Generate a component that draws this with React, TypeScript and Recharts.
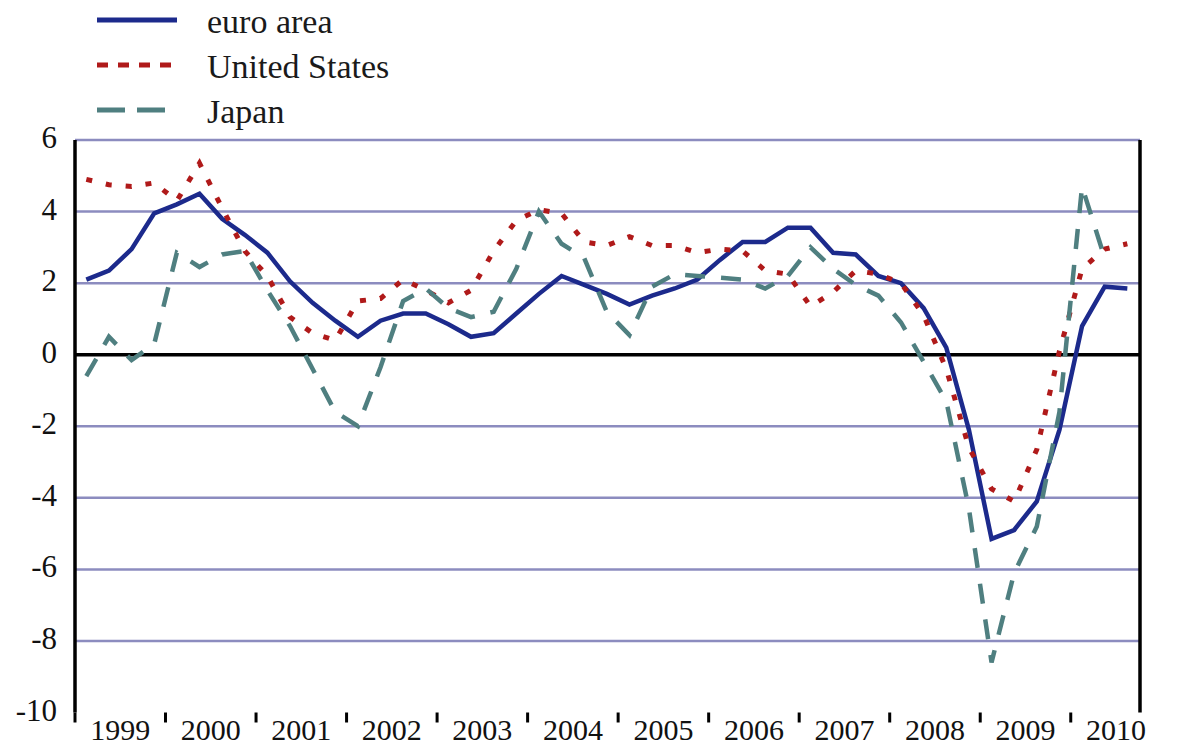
import React from 'react';
import { LineChart, Line, XAxis, YAxis, CartesianGrid } from 'recharts';

// ---- data (quarterly, y-o-y % change), 1999Q1 .. 2010Q3 ----
const years = ['1999', '2000', '2001', '2002', '2003', '2004', '2005', '2006', '2007', '2008', '2009', '2010'];
const quarterNames = ['Q1', 'Q2', 'Q3', 'Q4'];

const euroArea = [
  2.1, 2.35, 2.95, 3.95, 4.2, 4.5, 3.8, 3.35, 2.85, 2.05, 1.45, 0.95,
  0.5, 0.95, 1.15, 1.15, 0.85, 0.5, 0.6, 1.15, 1.7, 2.2, 1.95, 1.7,
  1.4, 1.65, 1.85, 2.1, 2.65, 3.15, 3.15, 3.55, 3.55, 2.85, 2.8, 2.2,
  2.0, 1.3, 0.2, -2.1, -5.15, -4.9, -4.1, -2.1, 0.8, 1.9, 1.85,
];
const unitedStates = [
  4.9, 4.75, 4.7, 4.8, 4.3, 5.35, 4.1, 2.9, 2.2, 1.05, 0.6, 0.4,
  1.5, 1.57, 2.1, 1.8, 1.45, 1.8, 2.9, 3.75, 4.05, 3.95, 3.15, 3.05,
  3.3, 3.05, 3.05, 2.85, 2.95, 2.9, 2.35, 2.25, 1.35, 1.75, 2.35, 2.25,
  2.0, 1.1, -0.4, -2.6, -3.75, -4.1, -2.65, 0.1, 2.4, 2.95, 3.1,
];
const japan: (number | null)[] = [
  -0.6, 0.5, -0.15, 0.3, 2.85, 2.45, 2.8, 2.9, 1.8, 0.8, -0.4, -1.6,
  -2.0, -0.35, 1.5, 1.85, 1.3, 1.05, 1.2, 2.4, 4.0, 3.1, 2.7, 1.2,
  0.55, 1.9, 2.25, 2.2, 2.15, 2.1, 1.85, 2.2, 3.0, 2.4, 1.95, 1.65,
  0.9, -0.2, -1.3, -4.3, -8.6, -6.1, -4.8, -1.6, 4.7, 2.7, null,
];

const yTicks = [-10, -8, -6, -4, -2, 0, 2, 4, 6];
const gridValues = [6, 4, 2, -2, -4, -6, -8];
const zeroValue = [0];

const SERIES = [
  { key: 'euro', name: 'euro area', color: '#1c2a8c', width: 4.5, dash: undefined as string | undefined, legendDash: undefined as string | undefined, legendLen: 80 },
  { key: 'us', name: 'United States', color: '#b01a1a', width: 5, dash: '6 14', legendDash: '11 10', legendLen: 74 },
  { key: 'japan', name: 'Japan', color: '#4f7f80', width: 4.5, dash: '20 16', legendDash: '28 12', legendLen: 69 },
];

// build table
const nQuarters = euroArea.length;
const data = Array.from({ length: nQuarters }, (_, i) => ({
  label: years[Math.floor(i / 4)] + quarterNames[i % 4],
  t: i + 0.5,
  euro: euroArea[i],
  us: unitedStates[i],
  japan: japan[i],
}));

// layout
const W = 1200;
const H = 748;
const LEFT_W = 75;
const RIGHT_W = 60;
const PLOT_W = W - LEFT_W - RIGHT_W;
const X_MAX = 47.06;
const HALF_YEAR = (2 * PLOT_W) / X_MAX;
const FONT = '"Liberation Serif", "Times New Roman", serif';
const yearTicks = years.map((_, k) => k * 4);

const YearTick = (props: any) => {
  const { x, y, payload } = props;
  const label = years[Math.round(payload.value / 4)];
  return (
    <text x={x + HALF_YEAR} y={y} dy={15} textAnchor="middle" fontFamily={FONT} fontSize={30} fill="#111">
      {label}
    </text>
  );
};

const LeftTick = (props: any) => {
  const { x, y, payload } = props;
  return (
    <text x={x} y={y} dy={8} textAnchor="end" fontFamily={FONT} fontSize={31} fill="#111">
      {payload.value}
    </text>
  );
};

const RightTick = (props: any) => {
  const { x, y, payload } = props;
  return (
    <text x={x} y={y} dy={8} textAnchor="start" fontFamily={FONT} fontSize={31} fill="#111">
      {payload.value}
    </text>
  );
};

const LegendBlock = () => (
  <svg width={420} height={130} style={{ position: 'absolute', left: 0, top: 0 }}>
    {SERIES.map((s, i) => {
      const cy = 20 + i * 45;
      return (
        <g key={s.key}>
          <line x1={97} x2={97 + s.legendLen} y1={cy} y2={cy} stroke={s.color} strokeWidth={5} strokeDasharray={s.legendDash} />
          <text x={207} y={cy + 13} fontFamily={FONT} fontSize={34} fill="#1a1a1a">
            {s.name}
          </text>
        </g>
      );
    })}
  </svg>
);

export default function App() {
  return (
    <div style={{ position: 'absolute', left: 0, top: 0, width: W, height: H, background: '#fff' }}>
      <LineChart width={W} height={H} data={data} margin={{ top: 140, right: 0, bottom: 0, left: 0 }}>
        <CartesianGrid yAxisId="left" vertical={false} horizontalValues={gridValues} stroke="#8c8cbf" strokeWidth={2.5} />
        <CartesianGrid yAxisId="left" vertical={false} horizontalValues={zeroValue} stroke="#000" strokeWidth={3.5} />
        <XAxis
          dataKey="t"
          type="number"
          domain={[0, X_MAX]}
          allowDataOverflow
          ticks={yearTicks}
          interval={0}
          axisLine={false}
          tickLine={{ stroke: '#000', strokeWidth: 3 }}
          tickSize={10}
          height={35.5}
          tick={<YearTick />}
        />
        <YAxis
          yAxisId="left"
          domain={[-10, 6]}
          ticks={yTicks}
          interval={0}
          width={LEFT_W}
          axisLine={{ stroke: '#000', strokeWidth: 3.5 }}
          tickLine={false}
          tickSize={0}
          tickMargin={18}
          tick={<LeftTick />}
        />
        <YAxis
          yAxisId="right"
          orientation="right"
          domain={[-10, 6]}
          ticks={yTicks}
          interval={0}
          width={RIGHT_W}
          axisLine={{ stroke: '#000', strokeWidth: 3.5 }}
          tickLine={false}
          tickSize={0}
          tickMargin={17}
          tick={<RightTick />}
        />
        {SERIES.map((s) => (
          <Line
            key={s.key}
            yAxisId="left"
            type="linear"
            dataKey={s.key}
            name={s.name}
            stroke={s.color}
            strokeWidth={s.width}
            strokeDasharray={s.dash}
            dot={false}
            activeDot={false}
            isAnimationActive={false}
            connectNulls={false}
          />
        ))}
      </LineChart>
      <LegendBlock />
    </div>
  );
}
